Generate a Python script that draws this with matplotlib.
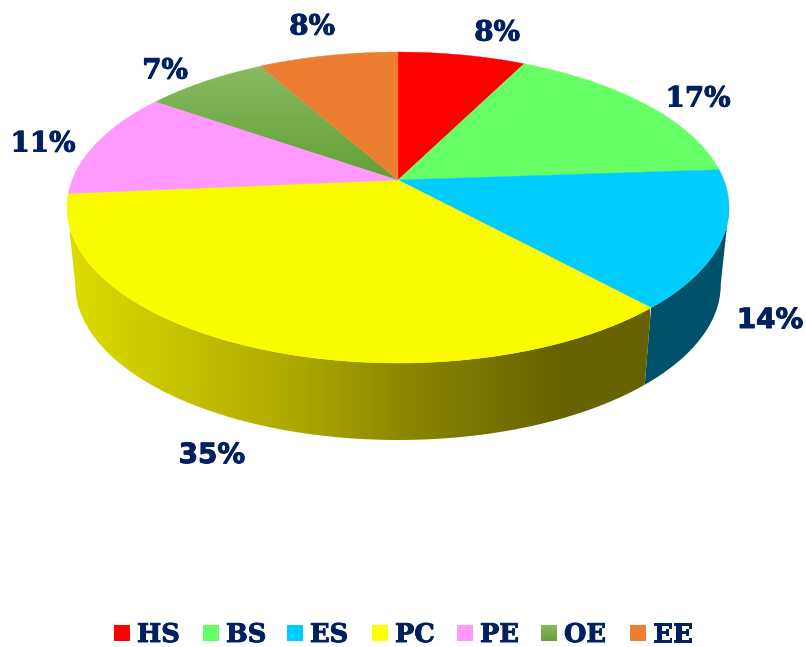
import numpy as np
import matplotlib
matplotlib.use('Agg')
import matplotlib.pyplot as plt
import matplotlib.patheffects as pe
from matplotlib.colors import LinearSegmentedColormap
from matplotlib.patches import Polygon, Rectangle

# shares as measured from the slice edges, the printed labels are rounded differently
categories = ['HS', 'BS', 'ES', 'PC', 'PE', 'OE', 'EE']
shares = [7.4, 16.5, 14.3, 35.4, 11.1, 7.2, 8.1]
pct_labels = ['8%', '17%', '14%', '35%', '11%', '7%', '8%']
colors = ['#ff0000', '#66ff66', '#00ccff', '#fbfb00', '#ff99ff', '#70ad47', '#ed7d31']

navy = '#002060'
label_pos = [(497, 33), (698, 99), (770, 320), (212, 455), (43, 144), (165, 71), (312, 27)]
label_font = ['DejaVu Serif', 'DejaVu Serif', 'DejaVu Sans', 'DejaVu Sans', 'DejaVu Serif', 'DejaVu Serif', 'DejaVu Serif']
legend_x = [114, 203, 287, 372, 457, 541, 630]

# pie projection, in pixels
cx, cy = 398, 180
A, B, k = 325.8, 150.6, 0.177
depth, shrink = 77, 0.975
side_from, side_to = 100, 260

thick = [pe.withStroke(linewidth=0.7, foreground=navy)]


def project(t, bottom=False):
    t = np.radians(t)
    u, v = np.sin(t), np.cos(t)
    w = 1 + k * v
    x, y = A * u / w, -B * v / w
    if bottom:
        return np.column_stack([cx + shrink * x, cy + y + depth])
    return np.column_stack([cx + x, cy + y])


fig = plt.figure(figsize=(8.06, 6.47), dpi=100)
ax = fig.add_axes([0, 0, 1, 1])
ax.axis('off')

edges = np.concatenate([[0], np.cumsum(shares)]) * 360 / sum(shares)

# sides
side_cmap = LinearSegmentedColormap.from_list('side', [
    (0.0, '#dedb00'), (0.16, '#c9c600'), (0.4, '#aaa700'), (0.58, '#8a8700'),
    (0.85, '#666300'), (1.0, '#666300')])
for i in [2, 3]:
    t0, t1 = max(edges[i], side_from), min(edges[i + 1], side_to)
    t = np.linspace(t0, t1, 200)
    pts = np.vstack([project(t), project(t[::-1], bottom=True)])
    poly = Polygon(pts, closed=True, fc='#00526a' if i == 2 else 'none', ec='none', zorder=1)
    ax.add_patch(poly)
    if i == 3:
        im = ax.imshow(np.linspace(0, 1, 256)[None, :], cmap=side_cmap, aspect='auto',
                       extent=(70, 650, 445, 190), zorder=1)
        im.set_clip_path(poly)

# top face
green_cmap = LinearSegmentedColormap.from_list('oe', ['#88bb62', '#639f35'])
for i, cat in enumerate(categories):
    t = np.linspace(edges[i], edges[i + 1], 120)
    pts = np.vstack([[cx, cy], project(t)])
    if cat == 'OE':
        poly = Polygon(pts, closed=True, fc='none', ec='none', zorder=2)
        ax.add_patch(poly)
        im = ax.imshow(np.linspace(0, 1, 256)[:, None], cmap=green_cmap, aspect='auto',
                       extent=(150, 400, 180, 65), origin='upper', zorder=2)
        im.set_clip_path(poly)
    else:
        ax.add_patch(Polygon(pts, closed=True, fc=colors[i], ec=colors[i], lw=0.3, zorder=2))

for lab, pos, fam in zip(pct_labels, label_pos, label_font):
    ax.text(pos[0], pos[1], lab, color=navy, fontsize=20, fontweight='bold', family=fam,
            ha='center', va='center', zorder=3, path_effects=thick)

# legend
for i, cat in enumerate(categories):
    if cat == 'OE':
        ax.imshow(np.linspace(0, 1, 64)[:, None], cmap=green_cmap, aspect='auto',
                  extent=(legend_x[i], legend_x[i] + 16, 641, 625), origin='upper', zorder=2)
    else:
        ax.add_patch(Rectangle((legend_x[i], 625), 16, 16, fc=colors[i] if cat != 'PC' else '#ffff00', ec='none'))
    ax.text(legend_x[i] + 23, 642, cat, color=navy, fontsize=18.5, fontweight='bold',
            family='DejaVu Serif', ha='left', va='baseline', path_effects=thick)

ax.set_xlim(0, 806)
ax.set_ylim(647, 0)

plt.savefig('out.png', dpi=100)
